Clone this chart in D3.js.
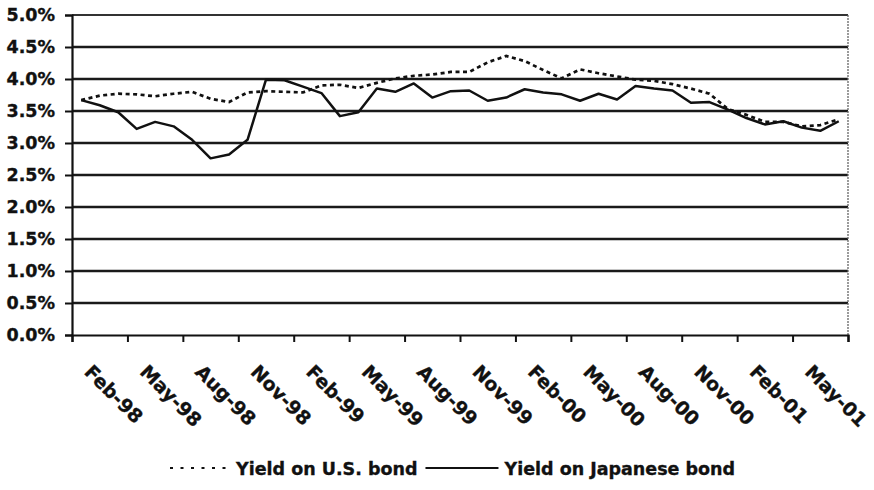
<!DOCTYPE html>
<html>
<head>
<meta charset="utf-8">
<script src="https://cdn.jsdelivr.net/npm/d3@7"></script>
<style>
  html, body { margin: 0; padding: 0; background: #fff; }
  svg { display: block; font-family: "DejaVu Sans", "Liberation Sans", Arial, sans-serif; font-weight: bold; }
  text { stroke: #111; stroke-width: 0.35px; }
</style>
</head>
<body>
<svg id="chart" width="874" height="490"></svg>
<script>
// ---- data ----
const months = [
  "Feb-98","Mar-98","Apr-98","May-98","Jun-98","Jul-98","Aug-98","Sep-98","Oct-98","Nov-98","Dec-98","Jan-99",
  "Feb-99","Mar-99","Apr-99","May-99","Jun-99","Jul-99","Aug-99","Sep-99","Oct-99","Nov-99","Dec-99","Jan-00",
  "Feb-00","Mar-00","Apr-00","May-00","Jun-00","Jul-00","Aug-00","Sep-00","Oct-00","Nov-00","Dec-00","Jan-01",
  "Feb-01","Mar-01","Apr-01","May-01","Jun-01","Jul-01"
];
const tickLabels = ["Feb-98","May-98","Aug-98","Nov-98","Feb-99","May-99","Aug-99","Nov-99","Feb-00","May-00","Aug-00","Nov-00","Feb-01","May-01"];
const usYield = [3.67,3.74,3.77,3.76,3.73,3.77,3.80,3.69,3.64,3.79,3.81,3.80,3.79,3.90,3.91,3.86,3.94,4.01,4.05,4.07,
                 4.11,4.11,4.26,4.36,4.28,4.14,4.01,4.15,4.09,4.04,3.99,3.97,3.92,3.85,3.77,3.53,3.44,3.33,3.33,3.26,3.28,3.37];
const jpYield = [3.67,3.59,3.48,3.22,3.33,3.26,3.05,2.76,2.82,3.05,3.99,3.98,3.88,3.78,3.42,3.48,3.85,3.80,3.93,3.71,
                 3.81,3.82,3.66,3.71,3.84,3.79,3.76,3.66,3.77,3.68,3.89,3.85,3.82,3.63,3.64,3.52,3.39,3.29,3.34,3.24,3.19,3.34];
const yTicks = [0,0.5,1,1.5,2,2.5,3,3.5,4,4.5,5];
const seriesNames = ["Yield on U.S. bond","Yield on Japanese bond"];

// ---- layout ----
const plotL = 72, plotR = 848, plotT = 15, plotB = 335;
const svg = d3.select("#chart");

const x = d3.scaleBand().domain(months).range([plotL, plotR]).paddingInner(0).paddingOuter(0);
const xIdx = d3.scaleLinear().domain([0, months.length]).range([plotL, plotR]);
const y = d3.scaleLinear().domain([0, 5]).range([plotB, plotT]);

// gridlines
svg.append("g").selectAll("line").data(yTicks.filter(v => v > 0 && v < 5)).join("line")
  .attr("x1", plotL).attr("x2", plotR)
  .attr("y1", d => y(d)).attr("y2", d => y(d))
  .attr("stroke", "#1a1a1a").attr("stroke-width", 2.5);

// plot border top/right
svg.append("line").attr("x1", plotL).attr("x2", plotR).attr("y1", y(5)).attr("y2", y(5))
  .attr("stroke", "#333").attr("stroke-width", 2);
svg.append("line").attr("x1", plotR).attr("x2", plotR).attr("y1", y(5)).attr("y2", y(0))
  .attr("stroke", "#666").attr("stroke-width", 1.3).attr("stroke-dasharray", "2,1");

// y axis
const yAxis = d3.axisLeft(y).tickValues(yTicks).tickSize(7).tickPadding(10)
  .tickFormat(d => d3.format(".1%")(d / 100));
const gy = svg.append("g").attr("transform", `translate(${plotL},0)`).call(yAxis);
gy.select(".domain").attr("stroke", "#111").attr("stroke-width", 2.2);
gy.selectAll(".tick line").attr("stroke", "#111").attr("stroke-width", 2);
gy.selectAll(".tick text").attr("fill", "#111").style("font-size", "17.5px").style("font-weight", "bold")
  .style("font-family", "'DejaVu Sans', sans-serif");

// x axis (ticks every 3 months at category boundaries)
const xAxis = d3.axisBottom(xIdx).tickValues(d3.range(0, months.length + 1, 3)).tickSize(7).tickFormat("");
const gx = svg.append("g").attr("transform", `translate(0,${plotB})`).call(xAxis);
gx.select(".domain").attr("stroke", "#111").attr("stroke-width", 2.2);
gx.selectAll(".tick line").attr("stroke", "#111").attr("stroke-width", 2);

// x labels rotated
svg.append("g").selectAll("text").data(tickLabels).join("text")
  .attr("transform", d => `translate(${x(d) + x.bandwidth() / 2 + 2},${plotB + 38}) rotate(45)`)
  .attr("text-anchor", "start")
  .style("font-size", "19px")
  .attr("fill", "#111")
  .text(d => d);

// lines
const line = d3.line().x((d, i) => x(months[i]) + x.bandwidth() / 2).y(d => y(d));
svg.append("path").datum(jpYield).attr("d", line)
  .attr("fill", "none").attr("stroke", "#111").attr("stroke-width", 2.5).attr("stroke-linejoin", "round");
svg.append("path").datum(usYield).attr("d", line)
  .attr("fill", "none").attr("stroke", "#111").attr("stroke-width", 2.7).attr("stroke-dasharray", "4,3.5");

// legend
const lg = svg.append("g").attr("transform", "translate(170,468)");
lg.append("line").attr("x1", 0).attr("x2", 63).attr("y1", 0).attr("y2", 0)
  .attr("stroke", "#111").attr("stroke-width", 2).attr("stroke-dasharray", "3,7.5");
const t1 = lg.append("text").attr("x", 66).attr("y", 6.5).style("font-size", "17.5px").attr("fill", "#111").text(seriesNames[0]);
const w1 = t1.node().getComputedTextLength();
const l2x = 66 + w1 + 8;
lg.append("line").attr("x1", l2x).attr("x2", l2x + 73).attr("y1", 0).attr("y2", 0)
  .attr("stroke", "#111").attr("stroke-width", 2);
lg.append("text").attr("x", l2x + 79).attr("y", 6.5).style("font-size", "17.5px").attr("fill", "#111").text(seriesNames[1]);
</script>
</body>
</html>
